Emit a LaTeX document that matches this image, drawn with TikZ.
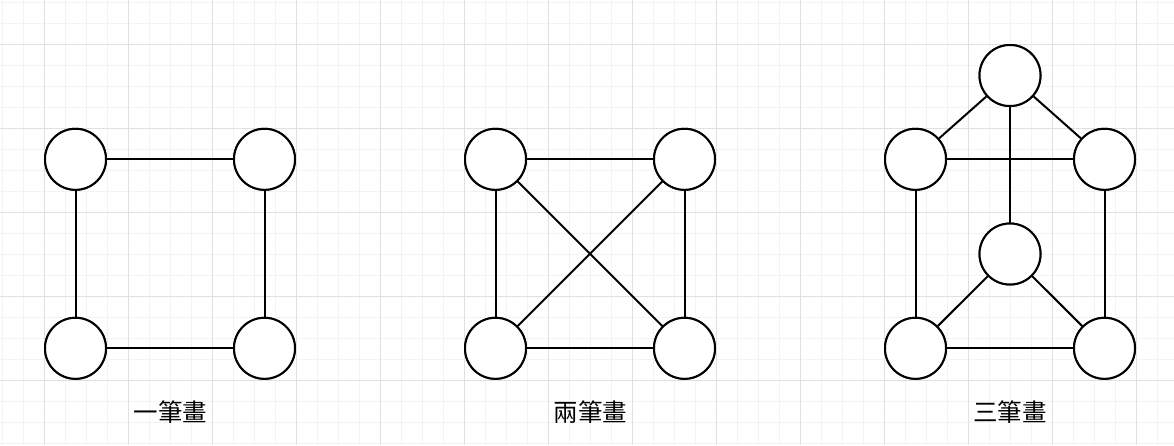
\documentclass[tikz,border=0pt]{standalone}
\usepackage{fontspec}
\newfontfamily\cjk{Noto Sans CJK TC}
\definecolor{gridmajor}{HTML}{E0E0E0}
\definecolor{gridminor}{HTML}{F3F3F3}
\tikzset{
  vtx/.style={circle, draw=black, fill=white, line width=2pt, minimum size=61pt, inner sep=0pt},
  edge/.style={draw=black, line width=2pt},
  lbl/.style={font=\cjk\fontsize{24.5}{29}\selectfont, text=black, inner sep=0pt}
}
\begin{document}
\begin{tikzpicture}[x=1pt,y=-1pt]
\useasboundingbox (0,0) rectangle (1174,445);
\fill[white] (0,0) rectangle (1174,445);
% grid
\foreach \i in {0,...,56} {
  \draw[gridminor, line width=1pt] ({2.3+21*\i},0) -- ({2.3+21*\i},445);
}
\foreach \i in {0,...,21} {
  \draw[gridminor, line width=1pt] (0,{2.3+21*\i}) -- (1174,{2.3+21*\i});
}
\foreach \i in {0,...,13} {
  \draw[gridmajor, line width=1pt] ({44.3+84*\i},0) -- ({44.3+84*\i},445);
}
\foreach \i in {0,...,4} {
  \draw[gridmajor, line width=1pt] (0,{44.3+84*\i}) -- (1174,{44.3+84*\i});
}
% graph 1
\node[vtx] (a1) at (75.5,159.3) {};
\node[vtx] (a2) at (264.5,159.3) {};
\node[vtx] (a3) at (75.5,348.3) {};
\node[vtx] (a4) at (264.5,348.3) {};
\draw[edge] (a1) -- (a2);
\draw[edge] (a1) -- (a3);
\draw[edge] (a2) -- (a4);
\draw[edge] (a3) -- (a4);
\node[lbl] (l1) at (170.5,412) {一筆畫};
% graph 2
\node[vtx] (b1) at (495.5,159.3) {};
\node[vtx] (b2) at (684.5,159.3) {};
\node[vtx] (b3) at (495.5,348.3) {};
\node[vtx] (b4) at (684.5,348.3) {};
\draw[edge] (b1) -- (b2);
\draw[edge] (b1) -- (b3);
\draw[edge] (b2) -- (b4);
\draw[edge] (b3) -- (b4);
\draw[edge] (b1) -- (b4);
\draw[edge] (b2) -- (b3);
\node[lbl] (l2) at (590.5,412) {兩筆畫};
% graph 3
\node[vtx] (c0) at (1010,75.5) {};
\node[vtx] (c1) at (915.5,159.3) {};
\node[vtx] (c2) at (1104.5,159.3) {};
\node[vtx] (c5) at (1010,254) {};
\node[vtx] (c3) at (915.5,348.3) {};
\node[vtx] (c4) at (1104.5,348.3) {};
\draw[edge] (c0) -- (c1);
\draw[edge] (c0) -- (c2);
\draw[edge] (c0) -- (c5);
\draw[edge] (c1) -- (c2);
\draw[edge] (c1) -- (c3);
\draw[edge] (c2) -- (c4);
\draw[edge] (c5) -- (c3);
\draw[edge] (c5) -- (c4);
\draw[edge] (c3) -- (c4);
\node[lbl] (l3) at (1010,412) {三筆畫};
\foreach \n in {a1,a2,a3,a4,b1,b2,b3,b4,c0,c1,c2,c3,c4,c5} {
  \node[vtx] at (\n) {};
}
\end{tikzpicture}
\end{document}
